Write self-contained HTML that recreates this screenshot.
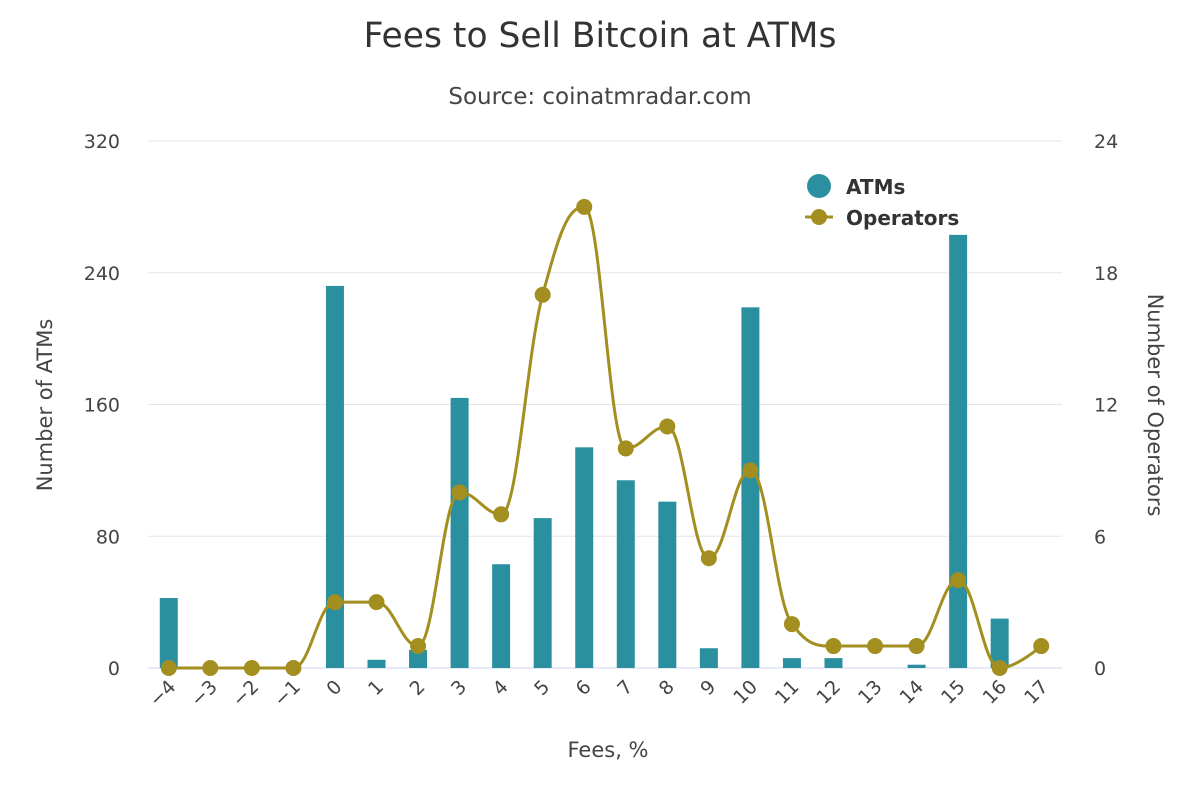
<!DOCTYPE html>
<html><head><meta charset="utf-8"><style>
body{margin:0;background:#fff;}
svg text{font-family:"DejaVu Sans","Liberation Sans",sans-serif;}
</style></head><body>
<svg id="c" width="1200" height="800" xmlns="http://www.w3.org/2000/svg">
<rect width="1200" height="800" fill="#fff"/>
<text x="600" y="47" text-anchor="middle" font-size="34.5" fill="#333">Fees to Sell Bitcoin at ATMs</text>
<text x="600" y="104" text-anchor="middle" font-size="23" fill="#444">Source: coinatmradar.com</text>
<g id="grid"></g>
<g id="bars"></g>
<path id="line" fill="none" stroke="#a38e20" stroke-width="3"/>
<g id="marks"></g>
<g id="labels" font-size="19" fill="#444"></g>
<text x="608" y="757" text-anchor="middle" font-size="21" fill="#444">Fees, %</text>
<text transform="translate(52,405) rotate(-90)" text-anchor="middle" font-size="21" fill="#444">Number of ATMs</text>
<text transform="translate(1148,405) rotate(90)" text-anchor="middle" font-size="21" fill="#444">Number of Operators</text>
<circle cx="819" cy="186" r="12" fill="#2a90a0"/>
<text x="846" y="194" font-size="20" font-weight="bold" fill="#333">ATMs</text>
<line x1="805" y1="217" x2="833" y2="217" stroke="#a38e20" stroke-width="3"/>
<circle cx="819" cy="217" r="8" fill="#a38e20"/>
<text x="846" y="225" font-size="20" font-weight="bold" fill="#333">Operators</text>
</svg>
<script>
var NS="http://www.w3.org/2000/svg";
function el(p,t,a,txt){var e=document.createElementNS(NS,t);for(var k in a)e.setAttribute(k,a[k]);if(txt!=null)e.textContent=txt;document.getElementById(p).appendChild(e);return e;}
var y0=668,yt=141,L=148,R=1062,step=(R-L)/22;
for(var i=0;i<=4;i++){var y=y0-(y0-yt)*i/4;
 el('grid','line',{x1:L,x2:R,y1:y,y2:y,stroke:i==0?'#ccd6eb':'#e6e6e6','stroke-width':1});
 el('labels','text',{x:120,y:y+7,'text-anchor':'end'},String(80*i));
 el('labels','text',{x:1094,y:y+7,'text-anchor':'start'},String(6*i));}
var atm=[42.5,0,0,0,232,5,11,164,63,91,134,114,101,12,219,6,6,0,2,263,30,0];
var op=[0,0,0,0,3,3,1,8,7,17,21,10,11,5,9,2,1,1,1,4,0,1];
var pts=[];
for(var i=0;i<22;i++){var cx=L+step*(i+0.5);
 var h=atm[i]*(y0-yt)/320;
 if(h>0)el('bars','rect',{x:cx-9,y:y0-h,width:18,height:h,fill:'#2a90a0'});
 pts.push([cx,y0-op[i]*(y0-yt)/24]);
 el('labels','text',{transform:'translate('+(cx+8)+',688) rotate(-45)','text-anchor':'end'},String(i-4).replace('-','\u2212'));}
var s=1.5,lc=[],rc=[];
for(var i=0;i<22;i++){var p=pts[i];
 if(i==0||i==21){lc.push([p[0],p[1]]);rc.push([p[0],p[1]]);continue;}
 var a=pts[i-1],b=pts[i+1],x=p[0],y=p[1];
 var lx=(s*x+a[0])/(s+1),ly=(s*y+a[1])/(s+1),rx=(s*x+b[0])/(s+1),ry=(s*y+b[1])/(s+1);
 var corr=((ry-ly)*(rx-x))/(rx-lx)+y-ry;ly+=corr;ry+=corr;
 if(ly>a[1]&&ly>y){ly=Math.max(a[1],y);ry=2*y-ly;}else if(ly<a[1]&&ly<y){ly=Math.min(a[1],y);ry=2*y-ly;}
 if(ry>b[1]&&ry>y){ry=Math.max(b[1],y);ly=2*y-ry;}else if(ry<b[1]&&ry<y){ry=Math.min(b[1],y);ly=2*y-ry;}
 lc.push([lx,ly]);rc.push([rx,ry]);}
var d='M'+pts[0][0]+' '+pts[0][1];
for(var i=1;i<22;i++)d+=' C'+rc[i-1][0]+' '+rc[i-1][1]+' '+lc[i][0]+' '+lc[i][1]+' '+pts[i][0]+' '+pts[i][1];
document.getElementById('line').setAttribute('d',d);
pts.forEach(function(p){el('marks','circle',{cx:p[0],cy:p[1],r:8,fill:'#a38e20'});});
</script>
</body></html>
